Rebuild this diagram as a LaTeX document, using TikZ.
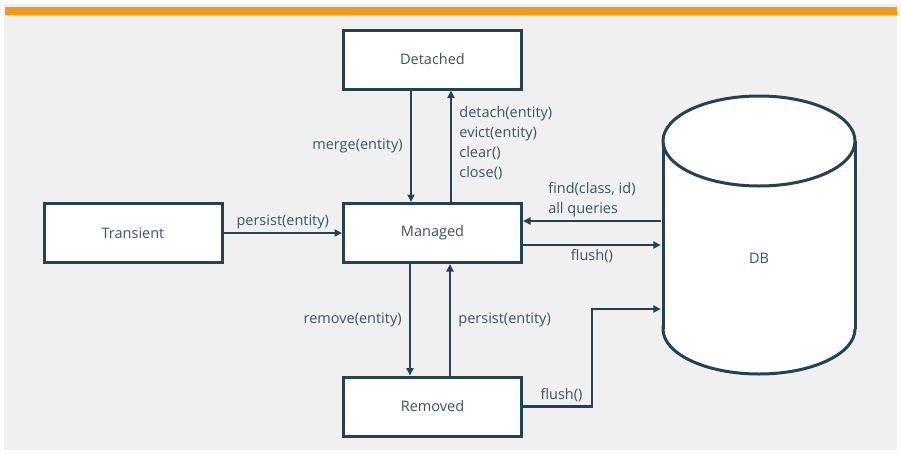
\documentclass[tikz,border=0pt]{standalone}
\usepackage{fontspec}
\setmainfont{Open Sans}
\usetikzlibrary{arrows.meta}
\definecolor{lineblue}{RGB}{36,66,80}
\definecolor{textblue}{RGB}{58,84,96}
\definecolor{panelgray}{RGB}{240,240,240}
\definecolor{barorange}{RGB}{243,153,24}

\begin{document}
\begin{tikzpicture}[x=1pt, y=-1pt,
  state/.style={draw=lineblue, line width=3pt, fill=white, minimum width=178pt, minimum height=59pt, text=textblue, font=\fontsize{14.5}{17}\selectfont},
  arr/.style={draw=lineblue, line width=2.8pt, -{Triangle[length=7.5pt,width=7pt]}},
  dbline/.style={draw=lineblue, line width=3pt},
  lbl/.style={text=textblue, font=\fontsize{14.5}{20}\selectfont, inner xsep=7pt, inner ysep=3pt}]
\useasboundingbox (0,0) rectangle (901,453);
\fill[white] (0,0) rectangle (901,453);
\fill[panelgray] (4,4) rectangle (897,450);
\fill[barorange] (5,7) rectangle (897,15);
% states
\node[state] (detached) at (432.5,59.5) {Detached};
\node[state] (managed) at (432.5,233) {Managed};
\node[state] (transient) at (133,233) {Transient};
\node[state] (removed) at (432.5,406.5) {Removed};
% database
\draw[dbline, fill=white] (759,329) ellipse [x radius=96, y radius=45];
\fill[white] (663,141) rectangle (855,329);
\draw[dbline] (663,141) -- (663,329) (855,141) -- (855,329);
\draw[dbline, fill=white] (759,141) ellipse [x radius=96, y radius=45];
\node[lbl, minimum width=196pt, minimum height=180pt] (db) at (759,258) {DB};
\coordinate (findy) at (0,221);
\coordinate (flushy) at (0,245);
\coordinate (flushbend) at (592,309);
% transitions
\draw[arr] (transient) -- node[lbl, above] {persist(entity)} (managed);
\draw[arr] ([xshift=-21.5pt]detached.south) -- node[lbl, left] {merge(entity)} ([xshift=-21.5pt]managed.north);
\draw[arr] ([xshift=18.5pt]managed.north) -- node[lbl, right, yshift=3pt, align=left] {detach(entity)\\evict(entity)\\clear()\\close()} ([xshift=18.5pt]detached.south);
\draw[arr] ([xshift=-22.5pt]managed.south) -- node[lbl, left] {remove(entity)} ([xshift=-22.5pt]removed.north);
\draw[arr] ([xshift=17.5pt]removed.north) -- node[lbl, right] {persist(entity)} ([xshift=17.5pt]managed.south);
\draw[arr] (db.west |- findy) -- node[lbl, above, align=left] {find(class, id)\\all queries} (managed.east |- findy);
\draw[arr] (managed.east |- flushy) -- node[lbl, below] {flush()} (db.west |- flushy);
\draw[arr] (removed.east) -- node[lbl, above, xshift=4pt] {flush()} (removed.east -| flushbend) -- (flushbend) -- (flushbend -| db.west);
\end{tikzpicture}
\end{document}
